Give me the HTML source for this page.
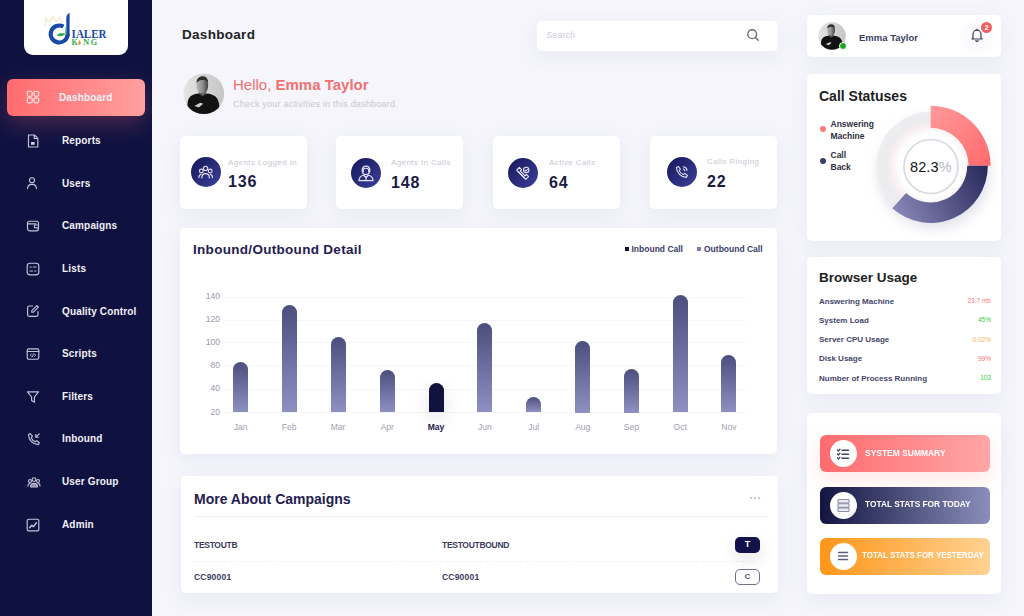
<!DOCTYPE html>
<html><head><meta charset="utf-8">
<style>
*{margin:0;padding:0;box-sizing:border-box}
html,body{width:1024px;height:616px;overflow:hidden}
body{background:#f5f5fb;font-family:"Liberation Sans",sans-serif;position:relative}
.a{position:absolute}
.t{position:absolute;white-space:nowrap;line-height:1}
#sidebar{left:0;top:0;width:152px;height:616px;background:#0f1241}
.logo{left:24px;top:-10px;width:104px;height:65px;background:#fff;border-radius:9px}
.act{left:7px;top:79px;width:138px;height:37px;border-radius:6px;background:linear-gradient(90deg,#ff6b6e,#ffa0a0);box-shadow:0 8px 22px rgba(255,110,110,0.25)}
.mi{color:#f1f1f7;font-weight:bold;font-size:10px;left:62px;letter-spacing:0.15px}
.ic{left:26px;width:13px;height:13px}
.card{position:absolute;background:#fff;border-radius:5px;box-shadow:0 5px 20px rgba(90,90,170,0.08)}
.stat .lab{color:#c8c8d1;font-size:8px;letter-spacing:0.4px}
.stat .num{color:#1b1b47;font-size:16px;font-weight:bold;letter-spacing:0.9px;margin-top:2px}
.circ{position:absolute;width:30px;height:30px;border-radius:50%;background:linear-gradient(135deg,#15165a,#3d4198)}
.yl{color:#9a9aa6;font-size:8.5px;text-align:right;width:30px;left:190px}
.grid{left:225px;width:521px;height:0;border-top:1px dotted #ececf2}
.bar{position:absolute;width:15px;border-radius:8px 8px 0 0;background:linear-gradient(180deg,#4c4e7e,#8e90c2)}
.bar.may{background:#12123f;box-shadow:0 6px 18px rgba(20,20,60,0.12)}
.t.ml.mlm{color:#1f2050;font-weight:bold}
.ml{color:#a0a0aa;font-size:8.5px;width:40px;text-align:center}
.bu{color:#45456b;font-size:8px;font-weight:bold;left:819px}
.bv{font-size:6.5px;right:33px;text-align:right}
.btn{position:absolute;left:820px;width:170px;height:37px;border-radius:6px}
.btn .w{position:absolute;left:10px;top:5px;width:27px;height:27px;border-radius:50%;background:#fff}
.btn .bt{position:absolute;left:44px;top:13px;color:#fff;font-size:9px;font-weight:bold;white-space:nowrap;line-height:1;transform-origin:0 50%}
.cm{color:#3c3c5e;font-size:8.5px;font-weight:bold;letter-spacing:-0.3px}
</style></head><body>

<!-- Sidebar -->
<div id="sidebar" class="a"></div>
<div class="a logo"></div>
<svg class="a" style="left:24px;top:0px" width="104" height="55" viewBox="0 0 104 55">
 <path d="M21 25.6 L21.6 18.5 L25.5 22.2 L28.8 16.6 L32.4 21.6 L35.6 17.2 L38.5 23.5" fill="none" stroke="#e2c791" stroke-width="1.3" stroke-linejoin="round" stroke-dasharray="1.5 0.8" opacity="0.6"/>
 <path d="M39.4 26.6 A8.5 8.5 0 1 0 43.7 34" stroke="#1849a6" stroke-width="4.1" fill="none"/>
 <path d="M42.3 37 V18 Q42.3 14.2 45.6 12.9 V36 Z" fill="#1849a6"/>
 <path d="M32.4 35.3 Q36.5 31.6 41.6 34 Q37.2 37.8 32.4 35.3 Z" fill="#2fae4a"/>
 <path d="M41.2 34.2 Q42.2 30 41.9 26.3" stroke="#2fae4a" stroke-width="0.8" fill="none"/>
 <text x="47.6" y="37.5" font-family="Liberation Serif" font-weight="bold" font-size="12.4" fill="#1849a6" textLength="35" lengthAdjust="spacingAndGlyphs">IALER</text>
 <text x="47.6" y="44.9" font-family="Liberation Serif" font-weight="bold" font-size="8.2" fill="#2fae4a" textLength="25.4" lengthAdjust="spacing">K  NG</text>
 <path d="M55.3 40 Q57.2 42 56.8 43.5 Q56 45.2 54.6 44.4 Q53.6 43 55.3 40 Z" fill="#f0912a"/>
</svg>
<div class="a" style="left:0;top:0;width:152px;height:616px;overflow:hidden"><div class="a act"></div></div>
<div class="t mi" id="m0" style="left:59px;top:93px">Dashboard</div>
<div class="t mi" id="m1" style="top:135.5px">Reports</div>
<div class="t mi" id="m2" style="top:178.5px">Users</div>
<div class="t mi" id="m3" style="top:221px">Campaigns</div>
<div class="t mi" id="m4" style="top:264px">Lists</div>
<div class="t mi" id="m5" style="top:306.5px">Quality Control</div>
<div class="t mi" id="m6" style="top:349px">Scripts</div>
<div class="t mi" id="m7" style="top:391.5px">Filters</div>
<div class="t mi" id="m8" style="top:434px">Inbound</div>
<div class="t mi" id="m9" style="top:477px">User Group</div>
<div class="t mi" id="m10" style="top:520px">Admin</div>

<svg class="a" style="left:26.0px;top:90.3px" width="14" height="14" viewBox="0 0 14 14" stroke="#c4c4da" stroke-width="1.15" fill="none" stroke-linecap="round" stroke-linejoin="round"><rect x="1.2" y="1.2" width="5" height="5" rx="1.6" stroke="#ffe3e3"/><rect x="7.8" y="1.2" width="5" height="5" rx="2.3" stroke="#ffe3e3"/><rect x="1.2" y="7.8" width="5" height="5" rx="1.2" stroke="#ffe3e3"/><rect x="7.8" y="7.8" width="5" height="5" rx="2.3" stroke="#ffe3e3"/></svg><svg class="a" style="left:26.0px;top:133.7px" width="14" height="14" viewBox="0 0 14 14" stroke="#c4c4da" stroke-width="1.15" fill="none" stroke-linecap="round" stroke-linejoin="round"><path d="M2.5 1 H8.5 L11.8 4.3 V13 H2.5 Z"/><path d="M8.3 1.2 V4.5 H11.6"/><rect x="5" y="8" width="3.6" height="2.8" fill="#d2d2e4" stroke="none"/></svg><svg class="a" style="left:25.3px;top:176.2px" width="14" height="14" viewBox="0 0 14 14" stroke="#c4c4da" stroke-width="1.15" fill="none" stroke-linecap="round" stroke-linejoin="round"><circle cx="7" cy="4.2" r="2.5"/><path d="M2.6 12.6 C2.6 9.6 4.6 8.3 7 8.3 C9.4 8.3 11.4 9.6 11.4 12.6"/></svg><svg class="a" style="left:25.5px;top:219.3px" width="14" height="14" viewBox="0 0 14 14" stroke="#c4c4da" stroke-width="1.15" fill="none" stroke-linecap="round" stroke-linejoin="round"><rect x="1.5" y="2.2" width="11" height="9.6" rx="2"/><path d="M1.5 4.8 H10"/><path d="M12.5 6 H9.6 A1.4 1.4 0 0 0 9.6 8.8 H12.5"/></svg><svg class="a" style="left:26.0px;top:261.5px" width="14" height="14" viewBox="0 0 14 14" stroke="#c4c4da" stroke-width="1.15" fill="none" stroke-linecap="round" stroke-linejoin="round"><rect x="1.2" y="1.2" width="11.6" height="11.6" rx="2.8"/><path d="M4 5 H5.2 M7.3 5 H10 M4 9 H6.6 M8.8 9 H10"/></svg><svg class="a" style="left:26.0px;top:304.4px" width="14" height="14" viewBox="0 0 14 14" stroke="#c4c4da" stroke-width="1.15" fill="none" stroke-linecap="round" stroke-linejoin="round"><path d="M6.5 2 H3.4 A1.8 1.8 0 0 0 1.6 3.8 V10.6 A1.8 1.8 0 0 0 3.4 12.4 H10.2 A1.8 1.8 0 0 0 12 10.6 V7.5"/><path d="M10.8 1.6 L12.4 3.2 L7.4 8.2 H5.8 V6.6 Z"/></svg><svg class="a" style="left:26.0px;top:346.8px" width="14" height="14" viewBox="0 0 14 14" stroke="#c4c4da" stroke-width="1.15" fill="none" stroke-linecap="round" stroke-linejoin="round"><rect x="1.2" y="1.8" width="11.6" height="10.4" rx="1.6"/><path d="M1.2 4.5 H12.8"/><path d="M5.4 7 L4.4 8.2 L5.4 9.4 M8.6 7 L9.6 8.2 L8.6 9.4 M7.5 6.8 L6.5 9.6" stroke-width="0.9"/></svg><svg class="a" style="left:26.0px;top:389.7px" width="14" height="14" viewBox="0 0 14 14" stroke="#c4c4da" stroke-width="1.15" fill="none" stroke-linecap="round" stroke-linejoin="round"><path d="M1.5 1.8 H12.5 L8.4 7 V12.2 L5.6 10.6 V7 Z"/></svg><svg class="a" style="left:26.6px;top:432.2px" width="14" height="14" viewBox="0 0 14 14" stroke="#c4c4da" stroke-width="1.15" fill="none" stroke-linecap="round" stroke-linejoin="round"><path d="M3.2 1.6 L5.4 4.2 L4.2 5.8 C5 7.6 6.4 9 8.2 9.8 L9.8 8.6 L12.4 10.8 L11.2 12.6 C6 12.4 1.6 8 1.4 2.8 Z"/><path d="M12.2 1.8 L8.8 5.2 M8.8 2.6 V5.2 H11.4"/></svg><svg class="a" style="left:26.5px;top:475.0px" width="14" height="14" viewBox="0 0 14 14" stroke="#c4c4da" stroke-width="1.15" fill="none" stroke-linecap="round" stroke-linejoin="round"><circle cx="7" cy="4.6" r="1.9"/><circle cx="3" cy="6" r="1.5"/><circle cx="11" cy="6" r="1.5"/><path d="M3.6 12 C3.6 9.6 5 8.4 7 8.4 C9 8.4 10.4 9.6 10.4 12 Z" fill="#8a8aa8"/><path d="M1 11 C1 9.2 1.8 8.5 3 8.5 M13 11 C13 9.2 12.2 8.5 11 8.5"/></svg><svg class="a" style="left:26.0px;top:518.0px" width="14" height="14" viewBox="0 0 14 14" stroke="#c4c4da" stroke-width="1.15" fill="none" stroke-linecap="round" stroke-linejoin="round"><rect x="1.2" y="1.2" width="11.6" height="11.6" rx="1.4"/><path d="M3.6 9.8 L5.8 7.2 L7.4 8.6 L10.4 4.8" stroke-width="1.5"/></svg>
<!-- Header -->
<div class="t" id="title" style="left:182px;top:27.5px;font-size:13.5px;letter-spacing:0.3px;font-weight:bold;color:#222">Dashboard</div>
<div class="card" style="left:537px;top:21px;width:241px;height:30px"></div>
<svg class="a" style="left:746px;top:28px" width="14" height="14" viewBox="0 0 14 14" fill="none" stroke="#6b6b78" stroke-width="1.4" stroke-linecap="round"><circle cx="6.2" cy="6.2" r="4.4"/><path d="M9.5 9.5 L12.2 12.2"/></svg>
<div class="t" id="search" style="left:546.5px;top:30.5px;font-size:8.5px;letter-spacing:0.3px;color:#c9c9d2">Search</div>

<div class="card" style="left:807px;top:15px;width:194px;height:42px"></div>
<svg class="a" style="left:817.5px;top:22px" width="28" height="28" viewBox="0 0 42 42">
 <defs><clipPath id="cav2"><circle cx="21" cy="21" r="20.6"/></clipPath></defs>
 <g clip-path="url(#cav2)">
  <rect width="42" height="42" fill="url(#avb)"/>
  <rect x="16" y="17" width="7.5" height="7" fill="#4a4a4a"/>
  <ellipse cx="19.6" cy="12.6" rx="5.9" ry="8.2" fill="url(#face)"/>
  <path d="M13.8 10.5 C13.6 5.5 16.5 3.4 19.8 3.4 C23.6 3.4 25.8 6 25.4 10.8 C24.5 8 22.5 7 19.5 7.2 C16.5 7.4 14.8 8.5 13.8 10.5 Z" fill="#2e2e2e"/>
  <path d="M3.5 42 L4.8 29 C5.8 23.5 10 21.5 15.5 20.8 L19.8 23.6 L24.2 20.8 C30 21.5 34.5 23.5 36 29 L38.5 42 Z" fill="#121212"/>
  <path d="M11.5 33.5 L17.5 30.2 L20.5 31 L16 34.8 Z" fill="#cfcfcf"/>
 </g>
</svg>
<div class="a" style="left:839.3px;top:41.5px;width:8px;height:8px;border-radius:50%;background:#1ea31e;border:1px solid #fff"></div>
<div class="a" style="left:962px;top:21px;width:30px;height:30px;border-radius:50%;background:#fbfbfe;box-shadow:0 1px 4px rgba(90,90,150,0.04)"></div>
<svg class="a" style="left:970px;top:28px" width="14" height="14" viewBox="0 0 14 14" fill="none" stroke="#3b3f5e" stroke-width="1.2" stroke-linejoin="round" stroke-linecap="round"><path d="M3 10 V6.2 A4 4 0 0 1 11 6.2 V10 L12 11 H2 Z"/><path d="M5.8 12.6 A1.3 1.3 0 0 0 8.2 12.6"/><path d="M7 1.2 V2.2"/></svg>
<div class="a" style="left:981px;top:21.5px;width:11px;height:11px;border-radius:50%;background:#ef6060;color:#fff;font-size:7.5px;font-weight:bold;text-align:center;line-height:11px">2</div>
<div class="t" id="uname" style="left:859px;top:32.5px;font-size:9.5px;font-weight:bold;color:#3b3f5e">Emma Taylor</div>

<!-- Hello -->
<svg class="a" style="left:182.5px;top:73.3px" width="41.5" height="41.5" viewBox="0 0 42 42">
 <defs><clipPath id="cav"><circle cx="21" cy="21" r="20.6"/></clipPath><linearGradient id="avb" x1="0" y1="0" x2="1" y2="0"><stop offset="0" stop-color="#e4e4e4"/><stop offset="1" stop-color="#c6c6c6"/></linearGradient>
 <linearGradient id="face" x1="0" y1="0" x2="1" y2="0"><stop offset="0" stop-color="#b8b8b8"/><stop offset="0.55" stop-color="#8a8a8a"/><stop offset="1" stop-color="#3e3e3e"/></linearGradient></defs>
 <g clip-path="url(#cav)">
  <rect width="42" height="42" fill="url(#avb)"/>
  <rect x="16" y="17" width="7.5" height="7" fill="#5a5a5a"/>
  <ellipse cx="19.6" cy="12.6" rx="5.9" ry="8.2" fill="url(#face)"/>
  <path d="M13.8 10.5 C13.6 5.5 16.5 3.4 19.8 3.4 C23.6 3.4 25.8 6 25.4 10.8 C24.5 8 22.5 7 19.5 7.2 C16.5 7.4 14.8 8.5 13.8 10.5 Z" fill="#2e2e2e"/>
  <path d="M3.5 42 L4.8 29 C5.8 23.5 10 21.5 15.5 20.8 L19.8 23.6 L24.2 20.8 C30 21.5 34.5 23.5 36 29 L38.5 42 Z" fill="#121212"/>
  <path d="M11.5 33.5 L17.5 30.2 L20.5 31 L16 34.8 Z" fill="#cfcfcf"/>
 </g>
</svg>
<div class="t" id="hello" style="left:233px;top:77px;font-size:15px;color:#f07171">Hello, <b>Emma Taylor</b></div>
<div class="t" id="check" style="left:233px;top:100px;font-size:9px;letter-spacing:0.22px;color:#c8c8d2">Check your activities in this dashboard.</div>

<!-- Stat cards -->
<div class="card stat" style="left:180px;top:136px;width:127px;height:73px">
  <div class="circ" style="left:11px;top:21px"><svg class="a" style="left:7px;top:7px" width="16" height="16" viewBox="0 0 16 16" stroke="#e4e4f4" stroke-width="1.1" fill="none" stroke-linecap="round" stroke-linejoin="round"><circle cx="3.3" cy="7" r="1.9"/><circle cx="7.6" cy="4.4" r="2.1"/><circle cx="12.2" cy="7" r="1.9"/><path d="M3.8 14 C3.8 11 5.5 9.6 7.6 9.6 C9.7 9.6 11.4 11 11.4 14"/><path d="M0.9 13.6 C0.9 11.6 1.8 10.5 3.2 10.2 M14.5 13.6 C14.5 11.6 13.6 10.5 12.2 10.2"/></svg></div>
  <div class="t lab" style="left:48px;top:23px">Agents Logged In</div>
  <div class="t num" style="left:48px;top:36px">136</div>
</div>
<div class="card stat" style="left:336px;top:136px;width:127px;height:73px">
  <div class="circ" style="left:15px;top:22px"><svg class="a" style="left:6px;top:5.5px" width="18" height="18" viewBox="0 0 16 16" stroke="#e4e4f4" stroke-width="1.1" fill="none" stroke-linecap="round" stroke-linejoin="round"><path d="M4.6 5.6 C4.6 3.4 6 1.8 8 1.8 C10 1.8 11.4 3.4 11.4 5.6 C11.4 7.8 10 9.4 8 9.4 C6 9.4 4.6 7.8 4.6 5.6 Z"/><path d="M5.6 4.6 C6.6 3.6 9 3.4 10.4 4.6 L10.4 6.8 M5.6 4.6 V6.6"/><path d="M1.8 14.8 C1.8 11.8 3.8 10.4 6 10 L8 12 L10 10 C12.2 10.4 14.2 11.8 14.2 14.8 Z"/><path d="M8 12 V14.8"/></svg></div>
  <div class="t lab" style="left:55px;top:23px">Agents In Calls</div>
  <div class="t num" style="left:55px;top:37px">148</div>
</div>
<div class="card stat" style="left:493px;top:136px;width:127px;height:73px">
  <div class="circ" style="left:15px;top:22px"><svg class="a" style="left:7px;top:7px" width="16" height="16" viewBox="0 0 16 16" stroke="#e4e4f4" stroke-width="1.1" fill="none" stroke-linecap="round" stroke-linejoin="round"><path d="M1.6 5.2 L4.4 2.4 L6.6 4.6 L5.2 6 L10 10.8 L11.4 9.4 L13.6 11.6 L10.8 14.4 Z"/><path d="M3 6.6 L9.4 13"/><circle cx="11.2" cy="5" r="2.7"/><path d="M10 5.1 L10.9 6 L12.4 4.3"/></svg></div>
  <div class="t lab" style="left:56px;top:23px">Active Calls</div>
  <div class="t num" style="left:56px;top:37px">64</div>
</div>
<div class="card stat" style="left:650px;top:136px;width:127px;height:73px">
  <div class="circ" style="left:17px;top:21px"><svg class="a" style="left:7px;top:7px" width="16" height="16" viewBox="0 0 16 16" stroke="#e4e4f4" stroke-width="1.1" fill="none" stroke-linecap="round" stroke-linejoin="round"><path d="M4.4 2.6 L6.4 5 L5.2 6.6 C6 8.4 7.4 9.8 9.2 10.6 L10.8 9.4 L13.4 11.4 L12.2 13.4 C7 13.2 2.6 8.8 2.4 3.6 Z"/><path d="M9.4 2.8 C11.2 3 12.8 4.6 13 6.4 M9.2 5 C10 5.2 10.6 5.8 10.8 6.6"/></svg></div>
  <div class="t lab" style="left:57px;top:22px">Calls Ringing</div>
  <div class="t num" style="left:57px;top:36px">22</div>
</div>

<!-- Chart card -->
<div class="card" style="left:180px;top:228px;width:597px;height:226px"></div>
<div class="t" id="ctitle" style="left:193px;top:242.5px;font-size:13.5px;letter-spacing:0.3px;font-weight:bold;color:#1f2050">Inbound/Outbound Detail</div>

<div class="t" id="leg1" style="left:631.5px;top:244.5px;font-size:8.5px;font-weight:bold;color:#3a3b6a">Inbound Call</div>
<div class="a" style="left:625px;top:247px;width:4px;height:4px;background:#12123f"></div>
<div class="a" style="left:697px;top:247px;width:4px;height:4px;background:#7a7cae"></div>
<div class="t" id="leg2" style="left:704px;top:244.5px;font-size:8.5px;font-weight:bold;color:#3a3b6a">Outbound Call</div>
<div class="t yl" style="top:292.4px">140</div>
<div class="a grid" style="top:296.9px"></div>
<div class="t yl" style="top:315.2px">120</div>
<div class="a grid" style="top:319.7px"></div>
<div class="t yl" style="top:337.8px">100</div>
<div class="a grid" style="top:342.3px"></div>
<div class="t yl" style="top:360.7px">80</div>
<div class="a grid" style="top:365.2px"></div>
<div class="t yl" style="top:384.1px">40</div>
<div class="a grid" style="top:388.6px"></div>
<div class="t yl" style="top:407.5px">20</div>
<div class="a grid" style="top:412.0px"></div>
<div class="bar" style="left:233.2px;top:361.8px;height:50.7px"></div>
<div class="t ml" style="left:220.7px;top:423px">Jan</div>
<div class="bar" style="left:281.7px;top:304.7px;height:107.8px"></div>
<div class="t ml" style="left:269.2px;top:423px">Feb</div>
<div class="bar" style="left:330.5px;top:336.6px;height:75.9px"></div>
<div class="t ml" style="left:318.0px;top:423px">Mar</div>
<div class="bar" style="left:379.8px;top:370.4px;height:42.1px"></div>
<div class="t ml" style="left:367.3px;top:423px">Apr</div>
<div class="bar may" style="left:428.5px;top:383.4px;height:29.1px"></div>
<div class="t ml mlm" style="left:416.0px;top:423px">May</div>
<div class="bar" style="left:477.3px;top:322.9px;height:89.6px"></div>
<div class="t ml" style="left:464.8px;top:423px">Jun</div>
<div class="bar" style="left:526.2px;top:397.4px;height:15.1px"></div>
<div class="t ml" style="left:513.7px;top:423px">Jul</div>
<div class="bar" style="left:575.2px;top:341.0px;height:71.5px"></div>
<div class="t ml" style="left:562.7px;top:423px">Aug</div>
<div class="bar" style="left:623.9px;top:369.0px;height:43.5px"></div>
<div class="t ml" style="left:611.4px;top:423px">Sep</div>
<div class="bar" style="left:672.7px;top:294.8px;height:117.7px"></div>
<div class="t ml" style="left:660.2px;top:423px">Oct</div>
<div class="bar" style="left:721.4px;top:354.8px;height:57.7px"></div>
<div class="t ml" style="left:708.9px;top:423px">Nov</div>

<!-- Campaigns card -->
<div class="card" style="left:181px;top:476px;width:597px;height:117px"></div>
<div class="t" id="camp" style="left:194px;top:492px;font-size:14px;font-weight:bold;color:#1f2050">More About Campaigns</div>

<div class="a" style="left:194px;top:516px;width:574px;height:1px;background:#f0f0f5"></div>
<div class="t cm" id="c1" style="left:194px;top:541px">TESTOUTB</div>
<div class="t cm" id="c2" style="left:442px;top:541px">TESTOUTBOUND</div>
<div class="a" style="left:194px;top:561px;width:560px;height:0;border-top:1px dashed #f1f1f5"></div>
<div class="t cm" id="c3" style="left:194px;top:573px;letter-spacing:0.2px">CC90001</div>
<div class="t cm" id="c4" style="left:442px;top:573px;letter-spacing:0.2px">CC90001</div>
<div class="t" style="left:749.5px;top:493px;font-size:11px;font-weight:bold;color:#b0b0bc;letter-spacing:0.3px">&middot;&middot;&middot;</div>
<div class="a" style="left:735px;top:536.5px;width:25px;height:16px;border-radius:5px;background:#12124a;box-shadow:0 6px 16px rgba(20,20,70,0.12)"></div>
<div class="t" style="left:735px;top:540px;width:25px;text-align:center;font-size:9px;font-weight:bold;color:#fff">T</div>
<div class="a" style="left:735px;top:569px;width:25px;height:16px;border-radius:5px;border:1px solid #70708e"></div>
<div class="t" style="left:735px;top:573px;width:25px;text-align:center;font-size:8px;font-weight:bold;color:#50506e">C</div>

<!-- Right column -->
<div class="card" style="left:807px;top:74px;width:194px;height:167px"></div>
<div class="t" id="cstat" style="left:819px;top:89px;font-size:14px;font-weight:bold;color:#222">Call Statuses</div>

<div class="a" style="left:819.5px;top:126px;width:6px;height:6px;border-radius:50%;background:#ff7b7b"></div>
<div class="a" style="left:819.5px;top:158px;width:6px;height:6px;border-radius:50%;background:#3b3a68"></div>
<div class="t" id="l1" style="left:830.5px;top:117.5px;font-size:8.5px;font-weight:bold;color:#303040;line-height:12px">Answering<br>Machine</div>
<div class="t" id="l2" style="left:830.5px;top:149px;font-size:8.5px;font-weight:bold;color:#303040;line-height:12px">Call<br>Back</div>
<svg class="a" style="left:807px;top:74px" width="194" height="167" viewBox="0 0 194 167">
 <defs>
  <linearGradient id="gs" gradientUnits="userSpaceOnUse" x1="123" y1="32" x2="183" y2="92"><stop offset="0" stop-color="#ff9a9a"/><stop offset="1" stop-color="#ff6a6c"/></linearGradient>
  <linearGradient id="gn" gradientUnits="userSpaceOnUse" x1="180" y1="92" x2="85" y2="140"><stop offset="0" stop-color="#28285a"/><stop offset="1" stop-color="#8a8bbb"/></linearGradient>
  <radialGradient id="gg" gradientUnits="userSpaceOnUse" cx="123.6" cy="91.8" r="56"><stop offset="0.55" stop-color="#ffffff"/><stop offset="0.72" stop-color="#f6eef0"/><stop offset="0.8" stop-color="#ececef"/><stop offset="1" stop-color="#eeeef1"/></radialGradient>
  <filter id="sh" x="-30%" y="-30%" width="160%" height="160%"><feGaussianBlur stdDeviation="6"/></filter>
 </defs>
 <circle cx="127" cy="99" r="56" fill="#cfcfe0" opacity="0.6" filter="url(#sh)"/>
 <circle cx="123.6" cy="91.8" r="54" fill="url(#gg)"/>
 <path d="M123.60 31.80 A60 60 0 0 1 183.60 91.80 L161.60 91.80 A38 38 0 0 0 123.60 53.80 Z" fill="url(#gs)"/>
 <path d="M180.80 91.80 A57.2 57.2 0 0 1 85.33 134.31 L99.11 119.00 A36.6 36.6 0 0 0 160.20 91.80 Z" fill="url(#gn)"/>
 <circle cx="124" cy="92.5" r="27" fill="#fff" stroke="#d9d9e3" stroke-width="1.7"/>
</svg>
<div class="t" id="pct" style="left:910px;top:159.5px;font-size:14.5px;color:#141414;letter-spacing:0.1px">82.3<span style="color:#b9b9c4">%</span></div>

<div class="card" style="left:807px;top:257px;width:194px;height:137px"></div>
<div class="t" id="busage" style="left:819px;top:270.5px;font-size:13.5px;font-weight:bold;color:#222">Browser Usage</div>

<div class="t bu" id="b1" style="top:297.5px">Answering Machine</div>
<div class="t bu" id="b2" style="top:317px">System Load</div>
<div class="t bu" id="b3" style="top:336px">Server CPU Usage</div>
<div class="t bu" id="b4" style="top:355px">Disk Usage</div>
<div class="t bu" id="b5" style="top:374.5px">Number of Process Running</div>
<div class="t bv" style="top:298.3px;color:#ff7a7a">23.7 mb</div>
<div class="t bv" style="top:317.3px;color:#3fcc3f">45%</div>
<div class="t bv" style="top:336.6px;color:#f7b55a">0.02%</div>
<div class="t bv" style="top:355.6px;color:#ff6b6b">99%</div>
<div class="t bv" style="top:375px;color:#3fcc3f">103</div>

<div class="card" style="left:807px;top:413px;width:194px;height:181px"></div>
<div class="btn" style="top:435px;background:linear-gradient(90deg,#ff6b6e,#ffa6a6);box-shadow:0 8px 20px rgba(255,120,120,0.18)"><div class="w" style="left:9.5px;top:5px"><svg class="a" style="left:6.5px;top:6.5px" width="14" height="14" viewBox="0 0 14 14" fill="none" stroke="#3e3f66" stroke-width="1.3" stroke-linecap="round" stroke-linejoin="round"><path d="M1.5 3 L2.5 4 L4 2.2 M1.5 7 L2.5 8 L4 6.2 M1.5 11 L2.5 12 L4 10.2"/><path d="M6 3.2 H12.5 M6 7.2 H12.5 M6 11.2 H12.5" stroke-width="1.5"/></svg></div><div class="bt" id="bt1" style="left:44.5px;top:14px;transform:scaleX(0.94)">SYSTEM SUMMARY</div></div>
<div class="btn" style="top:486.5px;background:linear-gradient(90deg,#131540,#8b8dba)"><div class="w" style="left:9.5px;top:5px"><svg class="a" style="left:6px;top:6px" width="15" height="15" viewBox="0 0 15 15" fill="none" stroke="#8d8ea4" stroke-width="1.1"><rect x="2" y="1.5" width="11" height="3.6" rx="0.8" fill="#e9e9f1"/><rect x="2" y="5.7" width="11" height="3.6" rx="0.8" fill="#e9e9f1"/><rect x="2" y="9.9" width="11" height="3.6" rx="0.8" fill="#e9e9f1"/></svg></div><div class="bt" id="bt2" style="left:44.5px;top:13.5px;transform:scaleX(0.925)">TOTAL STATS FOR TODAY</div></div>
<div class="btn" style="top:537.5px;background:linear-gradient(90deg,#ff961a,#ffd292)"><div class="w" style="left:9.5px;top:5px"><svg class="a" style="left:6.5px;top:6.5px" width="14" height="14" viewBox="0 0 14 14" fill="none" stroke="#5e5f80" stroke-width="1.5" stroke-linecap="round"><path d="M2.5 3.5 H11.5 M2.5 7 H11.5 M2.5 10.5 H11.5"/></svg></div><div class="bt" id="bt3" style="left:42px;top:13.5px;transform:scaleX(0.885)">TOTAL STATS FOR YESTERDAY</div></div>
</body></html>
